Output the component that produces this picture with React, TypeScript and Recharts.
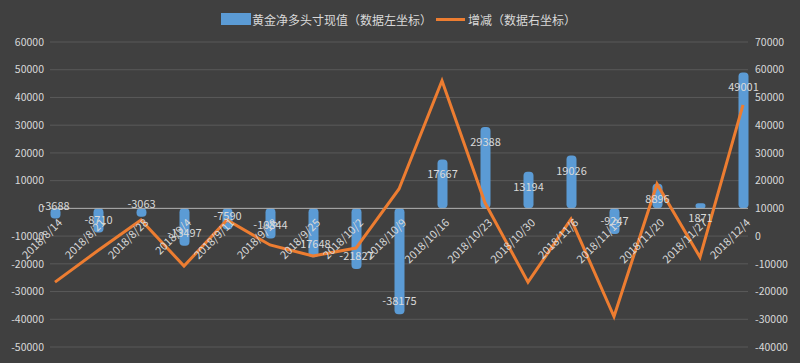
import React from "react"
import {
  ComposedChart,
  Bar,
  Line,
  XAxis,
  YAxis,
  CartesianGrid,
  ReferenceLine,
  LabelList,
} from "recharts"

const dates = [
  "2018/8/14", "2018/8/21", "2018/8/28", "2018/9/4", "2018/9/11", "2018/9/18",
  "2018/9/25", "2018/10/2", "2018/10/9", "2018/10/16", "2018/10/23", "2018/10/30",
  "2018/11/6", "2018/11/13", "2018/11/20", "2018/11/27", "2018/12/4",
]

// 黄金净多头寸现值 (left axis)
const netLong = [
  -3688, -8710, -3063, -13497, -7590, -10844, -17648, -21827, -38175,
  17667, 29388, 13194, 19026, -9247, 8896, 1871, 49001,
]

// 增减 (right axis)
const change = [
  -16600, -5200, 5800, -10800, 5800, -3200, -7200, -4300, 17000,
  56000, 12000, -16600, 6100, -29000, 18800, -7600, 47300,
]

const leftTicks = [-50000, -40000, -30000, -20000, -10000, 0, 10000, 20000, 30000, 40000, 50000, 60000]
const rightTicks = [-40000, -30000, -20000, -10000, 0, 10000, 20000, 30000, 40000, 50000, 60000, 70000]

const W = 800
const H = 363
const TOP = 42
const BOTTOM = 16
const PLOT_H = H - TOP - BOTTOM
const LEFT_MIN = leftTicks[0]
const LEFT_MAX = leftTicks[leftTicks.length - 1]
const ZERO_Y = TOP + (PLOT_H * LEFT_MAX) / (LEFT_MAX - LEFT_MIN)

const TEXT = "#d9d9d9"
const FONT = '"Noto Sans CJK SC", "Noto Sans", sans-serif'

const data = dates.map((d, i) => ({ i, date: d, netLong: netLong[i], change: change[i] }))

function DateTick(props: any) {
  const { x, payload } = props
  const ax = x + 8
  const ay = ZERO_Y + 15
  return (
    <text
      x={ax}
      y={ay}
      textAnchor="end"
      fill={TEXT}
      fontSize={11}
      fontFamily={FONT}
      transform={`rotate(-45, ${ax}, ${ay})`}
    >
      {dates[payload.value]}
    </text>
  )
}

function BarValue(props: any) {
  const { x, y, width, height, value } = props
  const a = y
  const b = y + height
  const end = value >= 0 ? Math.min(a, b) : Math.max(a, b)
  const cy = value >= 0 ? end + 14 : end - 14
  return (
    <text
      x={x + width / 2}
      y={cy}
      textAnchor="middle"
      dominantBaseline="central"
      fill={TEXT}
      fontSize={11}
      fontFamily={FONT}
    >
      {value}
    </text>
  )
}

export default function App() {
  return (
    <div style={{ position: "absolute", left: 0, top: 0, width: W, height: H, background: "#404040" }}>
      <div
        style={{
          position: "absolute",
          left: 221,
          top: 10,
          height: 18,
          display: "flex",
          alignItems: "center",
          fontFamily: FONT,
          fontSize: 12,
          color: TEXT,
          whiteSpace: "nowrap",
        }}
      >
        <span style={{ display: "inline-block", width: 30, height: 12, background: "#5b9bd5", marginRight: 1 }} />
        <span>黄金净多头寸现值（数据左坐标）</span>
        <span style={{ display: "inline-block", width: 29, height: 3, background: "#ed7d31", marginLeft: 4, marginRight: 3 }} />
        <span>增减（数据右坐标）</span>
      </div>
      <ComposedChart width={W} height={H} data={data} margin={{ top: TOP, right: 0, bottom: BOTTOM - 1, left: 0 }}>
        <CartesianGrid yAxisId="left" vertical={false} stroke="#595959" strokeWidth={1} />
        <YAxis
          yAxisId="left"
          orientation="left"
          domain={[LEFT_MIN, LEFT_MAX]}
          ticks={leftTicks}
          interval={0}
          width={50}
          axisLine={false}
          tickLine={false}
          tickSize={4}
          tickMargin={2}
          tick={{ fill: TEXT, fontSize: 10.5, fontFamily: FONT }}
        />
        <YAxis
          yAxisId="right"
          orientation="right"
          domain={[rightTicks[0], rightTicks[rightTicks.length - 1]]}
          ticks={rightTicks}
          interval={0}
          width={52}
          axisLine={false}
          tickLine={false}
          tickSize={5}
          tickMargin={2}
          tick={{ fill: TEXT, fontSize: 10.5, fontFamily: FONT }}
        />
        <Bar yAxisId="left" dataKey="netLong" fill="#5b9bd5" barSize={10} radius={4} isAnimationActive={false}>
          <LabelList dataKey="netLong" content={BarValue} />
        </Bar>
        <ReferenceLine yAxisId="left" y={0} stroke="#b0b0b0" strokeWidth={1} />
        <Line
          yAxisId="right"
          type="linear"
          dataKey="change"
          stroke="#ed7d31"
          strokeWidth={3}
          dot={false}
          activeDot={false}
          isAnimationActive={false}
        />
        <XAxis
          dataKey="i"
          type="number"
          domain={[0, dates.length - 1]}
          ticks={dates.map((_, i) => i)}
          interval={0}
          padding={{ left: 5, right: 5 }}
          height={1}
          axisLine={false}
          tickLine={false}
          tick={DateTick}
        />
      </ComposedChart>
    </div>
  )
}
